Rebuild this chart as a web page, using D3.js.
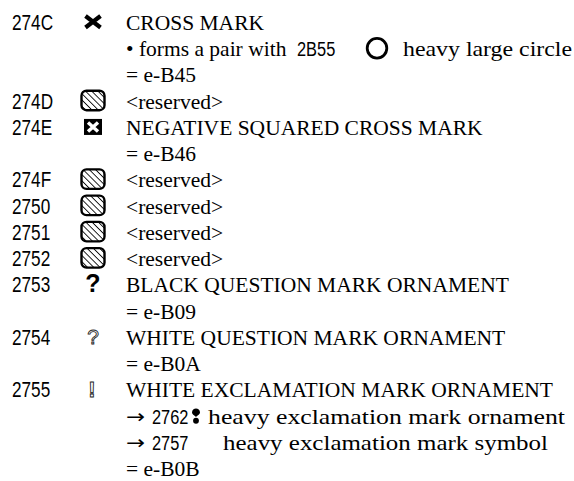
<!DOCTYPE html>
<html><head><meta charset="utf-8">
<script src="https://cdn.jsdelivr.net/npm/d3@7"></script>
<style>html,body{margin:0;padding:0;background:#fff;}svg{display:block;}</style>
</head><body>
<svg id="chart" width="574" height="481"></svg>
<script>
// ---- data ----
const codes = ["274C","","","274D","274E","","274F","2750","2751","2752","2753","","2754","","2755","","",""];
const glyphs = ["cross","","","reserved","negsq","","reserved","reserved","reserved","reserved","blackq","","whiteq","","whiteexcl","","",""];
const lineTexts = [
  "CROSS MARK",
  "• forms a pair with",
  "= e-B45",
  "<reserved>",
  "NEGATIVE SQUARED CROSS MARK",
  "= e-B46",
  "<reserved>",
  "<reserved>",
  "<reserved>",
  "<reserved>",
  "BLACK QUESTION MARK ORNAMENT",
  "= e-B09",
  "WHITE QUESTION MARK ORNAMENT",
  "= e-B0A",
  "WHITE EXCLAMATION MARK ORNAMENT",
  "",
  "",
  "= e-B0B"
];
// cross references: line index, arrow prefix, referenced code, glyph, description
const xrefLines = [1, 15, 16];
const xrefArrows = ["", "→", "→"];
const xrefCodes = ["2B55", "2762", "2757"];
const xrefGlyphs = ["circle", "heavyexcl", ""];
const xrefNames = ["heavy large circle", "heavy exclamation mark ornament", "heavy exclamation mark symbol"];

// ---- layout ----
const svg = d3.select("#chart");
const serif = "'Liberation Serif','Times New Roman',Times,serif";
const sans = "'Liberation Sans',Arial,Helvetica,sans-serif";
const y = d3.scaleLinear().domain([0, lineTexts.length - 1]).range([30, 476]);
const codeX = 12, glyphX = 93, textX = 126;
const xrefCodeX = [297, 152, 152], xrefGlyphX = [377, 196, 0];
const xrefNameX = [403, 208, 223], xrefNameW = [169, 357, 325];

const defs = svg.append("defs");
const pat = defs.append("pattern").attr("id","hatch").attr("patternUnits","userSpaceOnUse")
  .attr("width",4.4).attr("height",4.4).attr("patternTransform","rotate(-45)");
pat.append("rect").attr("width",4.4).attr("height",4.4).attr("fill","#fff");
pat.append("line").attr("x1",0).attr("y1",0).attr("x2",0).attr("y2",4.4)
  .attr("stroke","#000").attr("stroke-width",1.7);

function drawGlyph(g, type, cx, by) {
  if (type === "cross") {
    g.append("path").attr("d", `M${cx-7.5},${by-14}L${cx+7.5},${by-2.5}M${cx+7.5},${by-14}L${cx-7.5},${by-2.5}`)
      .attr("stroke","#000").attr("stroke-width",4.2).attr("fill","none");
  } else if (type === "reserved") {
    g.append("rect").attr("x",cx-11.5).attr("y",by-18).attr("width",23).attr("height",19.5).attr("rx",5)
      .attr("fill","url(#hatch)").attr("stroke","#000").attr("stroke-width",2.4);
  } else if (type === "negsq") {
    g.append("rect").attr("x",cx-9).attr("y",by-16).attr("width",18).attr("height",16).attr("fill","#000");
    g.append("path").attr("d", `M${cx-5},${by-12.5}L${cx+5},${by-3.5}M${cx+5},${by-12.5}L${cx-5},${by-3.5}`)
      .attr("stroke","#fff").attr("stroke-width",3.4);
  } else if (type === "blackq") {
    g.append("text").attr("x",cx).attr("y",by).attr("text-anchor","middle")
      .style("font-family",sans).style("font-weight","bold").style("font-size","25px").text("?");
  } else if (type === "whiteq") {
    g.append("text").attr("x",cx).attr("y",by-1).attr("text-anchor","middle")
      .style("font-family",sans).style("font-size","21px").attr("fill","#fff")
      .attr("stroke","#222").attr("stroke-width",0.9).text("?");
  } else if (type === "whiteexcl") {
    g.append("text").attr("x",cx-1).attr("y",by).attr("text-anchor","middle")
      .style("font-family",sans).style("font-weight","bold").style("font-size","22px").attr("fill","#fff")
      .attr("stroke","#222").attr("stroke-width",0.9).text("!");
  } else if (type === "heavyexcl") {
    g.append("path").attr("d", `M${cx-4},${by-11}C${cx-4},${by-16.5} ${cx+4},${by-16.5} ${cx+4},${by-11}C${cx+4},${by-9} ${cx+1},${by-8} ${cx},${by-6.5}C${cx-1},${by-8} ${cx-4},${by-9} ${cx-4},${by-11}Z`)
      .attr("fill","#000");
    g.append("circle").attr("cx",cx).attr("cy",by-2.8).attr("r",2.9).attr("fill","#000");
  } else if (type === "circle") {
    g.append("circle").attr("cx",cx).attr("cy",by-8).attr("r",9.8)
      .attr("fill","none").attr("stroke","#000").attr("stroke-width",2.8);
  }
}

const rows = svg.append("g").selectAll("g.row").data(lineTexts.map((t,i)=>({t,i}))).join("g").attr("class","row");

rows.each(function(d){
  const g = d3.select(this);
  const by = y(d.i);
  if (codes[d.i]) {
    g.append("text").attr("transform",`translate(${codeX},${by}) scale(0.8,1)`)
      .style("font-family",sans).style("font-size","21.5px").attr("fill","#000").text(codes[d.i]);
  }
  if (glyphs[d.i]) drawGlyph(g, glyphs[d.i], glyphX, by);
  if (d.t) g.append("text").attr("x",textX).attr("y",by)
    .style("font-family",serif).style("font-size","21.5px").attr("fill","#000").text(d.t);
  const k = xrefLines.indexOf(d.i);
  if (k >= 0) {
    if (xrefArrows[k]) g.append("text").attr("x",textX).attr("y",by - 1)
      .attr("textLength",19).attr("lengthAdjust","spacingAndGlyphs")
      .style("font-family","'DejaVu Sans',sans-serif").style("font-size","19px").attr("fill","#000").text(xrefArrows[k]);
    g.append("text").attr("transform",`translate(${xrefCodeX[k]},${by}) scale(0.78,1)`)
      .style("font-family",sans).style("font-size","21px").attr("fill","#000").text(xrefCodes[k]);
    if (xrefGlyphs[k]) drawGlyph(g, xrefGlyphs[k], xrefGlyphX[k], by);
    g.append("text").attr("x",xrefNameX[k]).attr("y",by)
      .attr("textLength",xrefNameW[k]).attr("lengthAdjust","spacingAndGlyphs")
      .style("font-family",serif).style("font-size","22px").attr("fill","#000").text(xrefNames[k]);
  }
});
</script>
</body></html>
